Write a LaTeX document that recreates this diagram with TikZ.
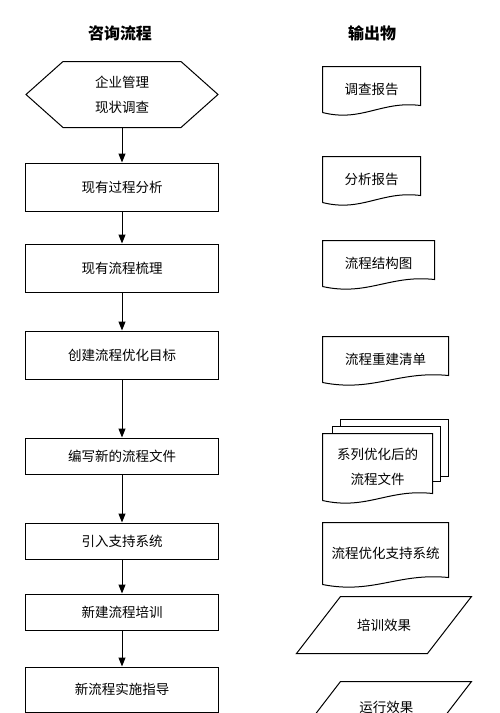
\documentclass[tikz,border=0pt]{standalone}
\usepackage{fontspec}
\newfontfamily\cjk{Noto Sans CJK SC}
\usetikzlibrary{arrows.meta,calc}

\begin{document}
\begin{tikzpicture}[x=1pt,y=-1pt,line width=1pt,
  every node/.style={font=\cjk\fontsize{13.5}{25}\selectfont,inner sep=0pt,align=center},
  stepbox/.style={draw,minimum width=193pt},
  flow/.style={-{Triangle[length=9pt,width=7pt]}}]
\useasboundingbox (0,0) rectangle (500,713);
\clip (0,0) rectangle (500,713);

\node [font=\cjk\bfseries\fontsize{16}{16}\selectfont] (T1) at (120,33) {咨询流程};
\node [font=\cjk\bfseries\fontsize{16}{16}\selectfont] (T2) at (372,33) {输出物};

\node [minimum width=191pt,minimum height=65pt] (H) at (122,94.5) {企业管理\\现状调查};
\draw (H.west) -- ([xshift=37pt]H.north west) -- ([xshift=-37pt]H.north east) -- (H.east)
  -- ([xshift=-37pt]H.south east) -- ([xshift=37pt]H.south west) -- cycle;

\node [stepbox,minimum height=48pt] (A) at (122,187) {现有过程分析};
\node [stepbox,minimum height=48pt] (B) at (122,268) {现有流程梳理};
\node [stepbox,minimum height=48pt] (C) at (122,355) {创建流程优化目标};
\node [stepbox,minimum height=36pt] (D) at (122,456) {编写新的流程文件};
\node [stepbox,minimum height=36pt] (E) at (122,541) {引入支持系统};
\node [stepbox,minimum height=36pt] (F) at (122,612) {新建流程培训};
\node [stepbox,minimum height=45pt] (G) at (122,689.5) {新流程实施指导};

\foreach \a/\b in {H/A,A/B,B/C,C/D,D/E,E/F,F/G}
  \draw [flow] (\a) -- (\b);

\node [minimum width=97pt,minimum height=45pt] (O1) at (371.5,89.5) {调查报告};
\node [minimum width=97pt,minimum height=45pt] (O2) at (371.5,179.5) {分析报告};
\node [minimum width=111pt,minimum height=45pt] (O3) at (378.5,263.5) {流程结构图};
\node [minimum width=125pt,minimum height=45pt] (O4) at (385.5,359.5) {流程重建清单};
\node [minimum width=109pt,minimum height=66pt] (O5) at (377.5,467) {系列优化后的\\流程文件};
\node [minimum width=125pt,minimum height=61pt] (O6) at (385.5,553.5) {流程优化支持系统};

\foreach \n in {O1,O2,O3,O4,O5,O6}
  \draw (\n.south west) -- (\n.north west) -- (\n.north east) -- ([yshift=7pt]\n.south east)
    .. controls ($(\n.south east)!0.4!(\n.south west)+(0,-12)$) and ($(\n.south east)!0.6!(\n.south west)+(0,10)$) .. (\n.south west);

\draw ($(O5.north west)+(18,-7)$) -- ++(0,-7) -- ($(O5.north east)+(16,-14)$)
  -- ($(O5.north east)+(16,43)$) -- ++(-8,0);
\draw ($(O5.north west)+(10,0)$) -- ++(0,-7) -- ($(O5.north east)+(8,-7)$)
  -- ($(O5.north east)+(8,48)$) -- ++(-8,0);

\node [minimum width=130pt,minimum height=56pt] (P1) at (384,625) {培训效果};
\node [minimum width=130pt,minimum height=50pt] (P2) at (386.4,707) {运行效果};

\draw ([xshift=-22pt]P1.south west) -- ([xshift=22pt]P1.north west)
  -- ([xshift=22pt]P1.north east) -- ([xshift=-22pt]P1.south east) -- cycle;
\draw ([xshift=-19.6pt]P2.south west) -- ([xshift=19.6pt]P2.north west)
  -- ([xshift=19.6pt]P2.north east) -- ([xshift=-19.6pt]P2.south east) -- cycle;
\end{tikzpicture}
\end{document}
